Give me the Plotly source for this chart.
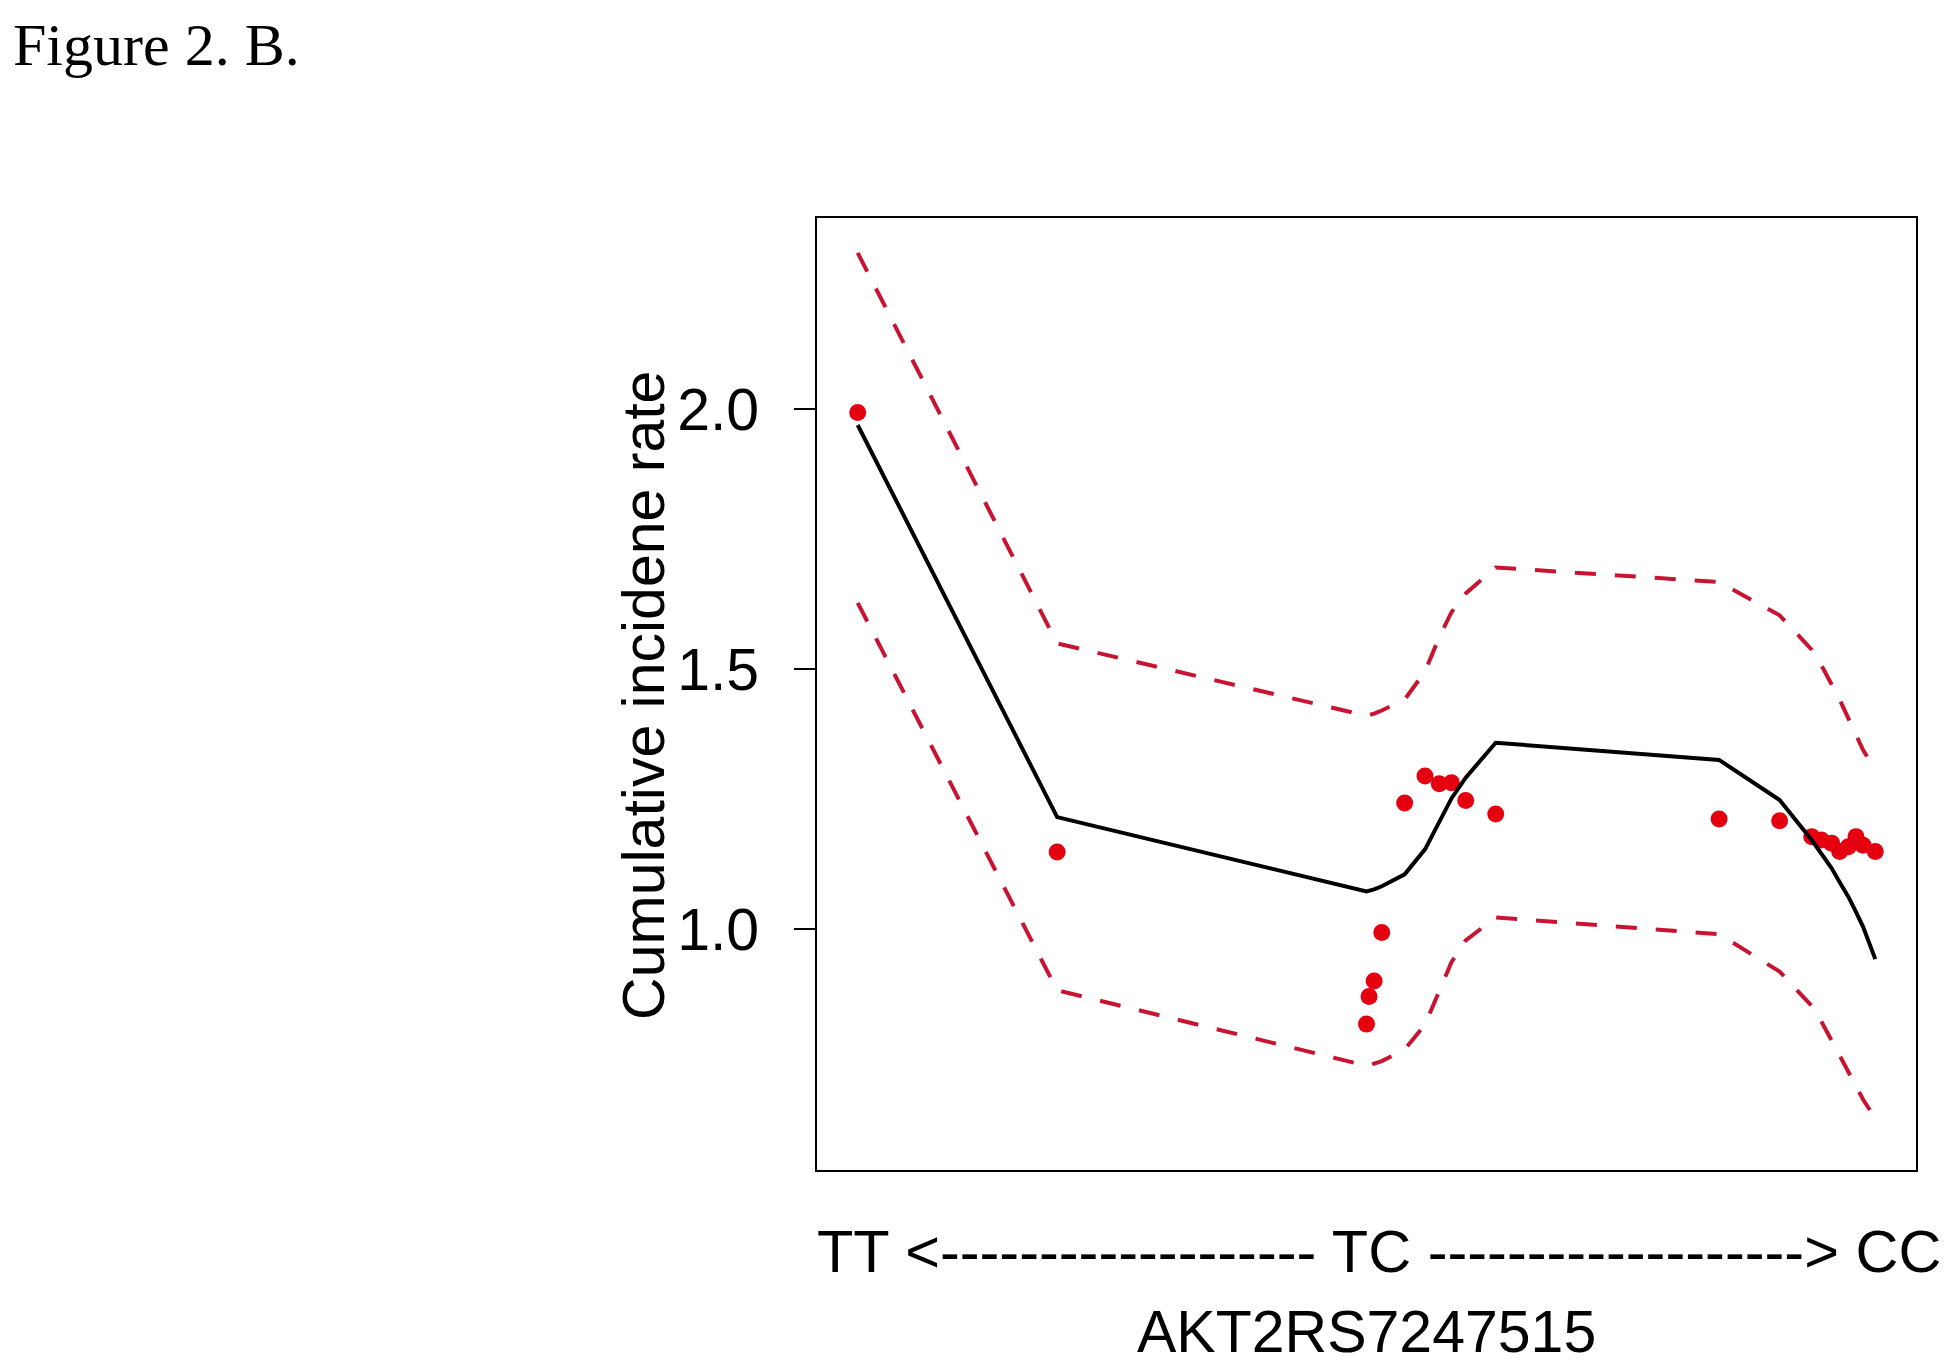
import plotly.graph_objects as go

# Observed points (genotype score 0=TT, 1=TC, 2=CC)
pts_x = [0.0, 0.392, 1.0, 1.005, 1.015, 1.030, 1.075, 1.115, 1.143, 1.167, 1.195, 1.254,
         1.693, 1.812, 1.875, 1.894, 1.914, 1.930, 1.947, 1.962, 1.976, 2.0]
pts_y = [1.993, 1.148, 0.817, 0.870, 0.900, 0.993, 1.242, 1.294, 1.279, 1.281, 1.247, 1.221,
         1.2115, 1.208, 1.1775, 1.171, 1.165, 1.149, 1.158, 1.1775, 1.161, 1.149]

# Fitted curve and confidence band at the same positions
fit_y = [1.969, 1.215, 1.072, 1.073, 1.076, 1.082, 1.105, 1.153, 1.206, 1.251, 1.291, 1.358,
         1.325, 1.248, 1.171, 1.1455, 1.117, 1.090, 1.062, 1.033, 1.004, 0.942]
upper_y = [2.300, 1.549, 1.410, 1.411, 1.414, 1.420, 1.441, 1.495, 1.561, 1.609, 1.645, 1.695,
           1.667, 1.603, 1.537, 1.507, 1.471, 1.441, 1.405, 1.375, 1.344, 1.306]
lower_y = [1.627, 0.882, 0.737, 0.738, 0.741, 0.746, 0.768, 0.816, 0.882, 0.936, 0.978, 1.022,
           0.990, 0.918, 0.852, 0.822, 0.786, 0.756, 0.726, 0.696, 0.672, 0.636]

y_tickvals = [1.0, 1.5, 2.0]
y_ticktext = ["1.0", "1.5", "2.0"]

x_label_line1 = "TT <" + "-" * 19 + " TC " + "-" * 19 + "> CC"
x_label_line2 = "AKT2RS7247515"
y_label = "Cumulative incidene rate"
fig_title = "Figure 2. B."

SANS = "Liberation Sans, Arial, sans-serif"
SERIF = "Liberation Serif, Times New Roman, serif"
DASH_RED = "#C81430"
PT_RED = "#E5000F"
FS = 59

fig = go.Figure()
fig.add_trace(go.Scatter(x=pts_x, y=pts_y, mode="markers",
                         marker=dict(color=PT_RED, size=17, line=dict(width=0)),
                         showlegend=False, name="observed"))
fig.add_trace(go.Scatter(x=pts_x, y=upper_y, mode="lines",
                         line=dict(color=DASH_RED, width=4, dash="21px,19px"),
                         showlegend=False, name="upper"))
fig.add_trace(go.Scatter(x=pts_x, y=lower_y, mode="lines",
                         line=dict(color=DASH_RED, width=4, dash="21px,19px"),
                         showlegend=False, name="lower"))
fig.add_trace(go.Scatter(x=pts_x, y=fit_y, mode="lines",
                         line=dict(color="black", width=4),
                         showlegend=False, name="fit"))

fig.update_layout(
    width=1950, height=1368,
    margin=dict(l=809, r=42, t=210, b=206),
    paper_bgcolor="white", plot_bgcolor="white",
    showlegend=False,
    xaxis=dict(range=[-0.08, 2.08], showticklabels=False, ticks="", showgrid=False,
               zeroline=False, showline=True, mirror=True, linecolor="black", linewidth=2),
    yaxis=dict(range=[0.5365, 2.367], tickvals=y_tickvals, ticktext=y_ticktext,
               ticks="outside", ticklen=21, tickwidth=2, tickcolor="black",
               tickfont=dict(family=SANS, size=FS, color="black"),
               ticklabelstandoff=23,
               showgrid=False, zeroline=False, showline=True, mirror=True,
               linecolor="black", linewidth=2),
    annotations=[
        dict(text=fig_title, xref="paper", yref="paper",
             x=(3 - 809) / 1099, y=(1162 - 2) / 952,
             xanchor="left", yanchor="top", showarrow=False,
             font=dict(family=SERIF, size=60, color="black")),
        dict(text=y_label, xref="paper", yref="paper", x=-0.1574, y=0.498,
             xanchor="center", yanchor="middle", textangle=-90, showarrow=False,
             font=dict(family=SANS, size=FS, color="black")),
        dict(text=x_label_line1, xref="paper", yref="paper", x=0.511, y=-0.0856,
             xanchor="center", yanchor="middle", showarrow=False,
             font=dict(family=SANS, size=59.5, color="black")),
        dict(text=x_label_line2, xref="paper", yref="paper", x=0.5, y=-0.1702,
             xanchor="center", yanchor="middle", showarrow=False,
             font=dict(family=SANS, size=FS, color="black")),
    ],
)

fig.write_html("out.html")
